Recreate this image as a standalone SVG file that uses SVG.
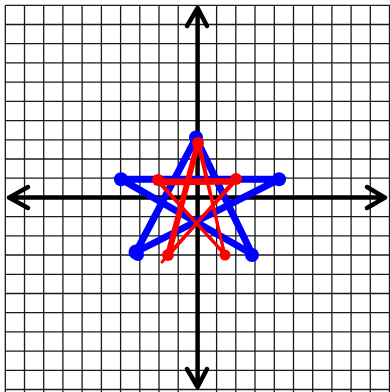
<svg xmlns="http://www.w3.org/2000/svg" width="390" height="392" viewBox="0 0 390 392">
<style>
.grid line{stroke:#1a1a1a;stroke-width:1.3}
.axis{stroke:#000;stroke-width:4.5;fill:none;stroke-linecap:round;stroke-linejoin:round}
.blue{stroke:#0000ff;stroke-width:7;fill:none;stroke-linecap:round;stroke-linejoin:round}
.bdot{fill:#0000ff}
.red{stroke:#ff0000;stroke-width:3;fill:none;stroke-linecap:round;stroke-linejoin:round}
.rdot{fill:#ff0000}
</style>
<rect width="390" height="392" fill="#fff"/>
<g class="grid" id="grid">
<line x1="5.3" y1="5.3" x2="5.3" y2="392"/><line x1="24.5" y1="5.3" x2="24.5" y2="392"/><line x1="43.7" y1="5.3" x2="43.7" y2="392"/><line x1="62.9" y1="5.3" x2="62.9" y2="392"/><line x1="82.1" y1="5.3" x2="82.1" y2="392"/><line x1="101.4" y1="5.3" x2="101.4" y2="392"/><line x1="120.6" y1="5.3" x2="120.6" y2="392"/><line x1="139.8" y1="5.3" x2="139.8" y2="392"/><line x1="159" y1="5.3" x2="159" y2="392"/><line x1="178.2" y1="5.3" x2="178.2" y2="392"/><line x1="216.6" y1="5.3" x2="216.6" y2="392"/><line x1="235.8" y1="5.3" x2="235.8" y2="392"/><line x1="255" y1="5.3" x2="255" y2="392"/><line x1="274.3" y1="5.3" x2="274.3" y2="392"/><line x1="293.5" y1="5.3" x2="293.5" y2="392"/><line x1="312.7" y1="5.3" x2="312.7" y2="392"/><line x1="331.9" y1="5.3" x2="331.9" y2="392"/><line x1="351.1" y1="5.3" x2="351.1" y2="392"/><line x1="370.3" y1="5.3" x2="370.3" y2="392"/><line x1="389.5" y1="5.3" x2="389.5" y2="392"/>
<line x1="5.3" y1="5.3" x2="390" y2="5.3"/><line x1="5.3" y1="24.5" x2="390" y2="24.5"/><line x1="5.3" y1="43.7" x2="390" y2="43.7"/><line x1="5.3" y1="62.9" x2="390" y2="62.9"/><line x1="5.3" y1="82.1" x2="390" y2="82.1"/><line x1="5.3" y1="101.4" x2="390" y2="101.4"/><line x1="5.3" y1="120.6" x2="390" y2="120.6"/><line x1="5.3" y1="139.8" x2="390" y2="139.8"/><line x1="5.3" y1="159" x2="390" y2="159"/><line x1="5.3" y1="178.2" x2="390" y2="178.2"/><line x1="5.3" y1="216.6" x2="390" y2="216.6"/><line x1="5.3" y1="235.8" x2="390" y2="235.8"/><line x1="5.3" y1="255" x2="390" y2="255"/><line x1="5.3" y1="274.3" x2="390" y2="274.3"/><line x1="5.3" y1="293.5" x2="390" y2="293.5"/><line x1="5.3" y1="312.7" x2="390" y2="312.7"/><line x1="5.3" y1="331.9" x2="390" y2="331.9"/><line x1="5.3" y1="351.1" x2="390" y2="351.1"/><line x1="5.3" y1="370.3" x2="390" y2="370.3"/><line x1="5.3" y1="389.5" x2="390" y2="389.5"/>
</g>
<g id="axes">
<path class="axis" d="M9 197.6H385M28 187L9 197.6L28 208M367 187L385 197.6L367 208"/>
<path class="axis" d="M197.6 8V387M187 26L197.6 8L207 26M187 369L197.6 387L207 369"/>
</g>
<g id="blue-star">
<path class="blue" d="M196 138L136 252L279 179.3L121 179.3L252 254Z"/>
<circle class="bdot" cx="196" cy="137.5" r="7"/>
<circle class="bdot" cx="121" cy="179.3" r="7"/>
<circle class="bdot" cx="279" cy="179.3" r="7"/>
<circle class="bdot" cx="136" cy="252" r="7.5"/>
<circle class="bdot" cx="138" cy="255" r="6"/>
<circle class="bdot" cx="252" cy="255" r="7"/>
</g>
<g id="red-star">
<path class="red" d="M197.5 143L168 255L236 179.5L158 180L225 255Z"/>
<path class="red" d="M196 145L166 257L234 183L160 184L224 253L199 142"/>
<path class="red" d="M199 144L170 254L237 177M158 182L236 181M167 256L232 184M162 262L168 255"/>
<circle class="rdot" cx="198" cy="143" r="6"/>
<circle class="rdot" cx="158" cy="180" r="6"/>
<circle class="rdot" cx="236" cy="179" r="6"/>
<circle class="rdot" cx="168" cy="255" r="6"/>
<circle class="rdot" cx="225" cy="255" r="5.5"/>
</g>
</svg>
